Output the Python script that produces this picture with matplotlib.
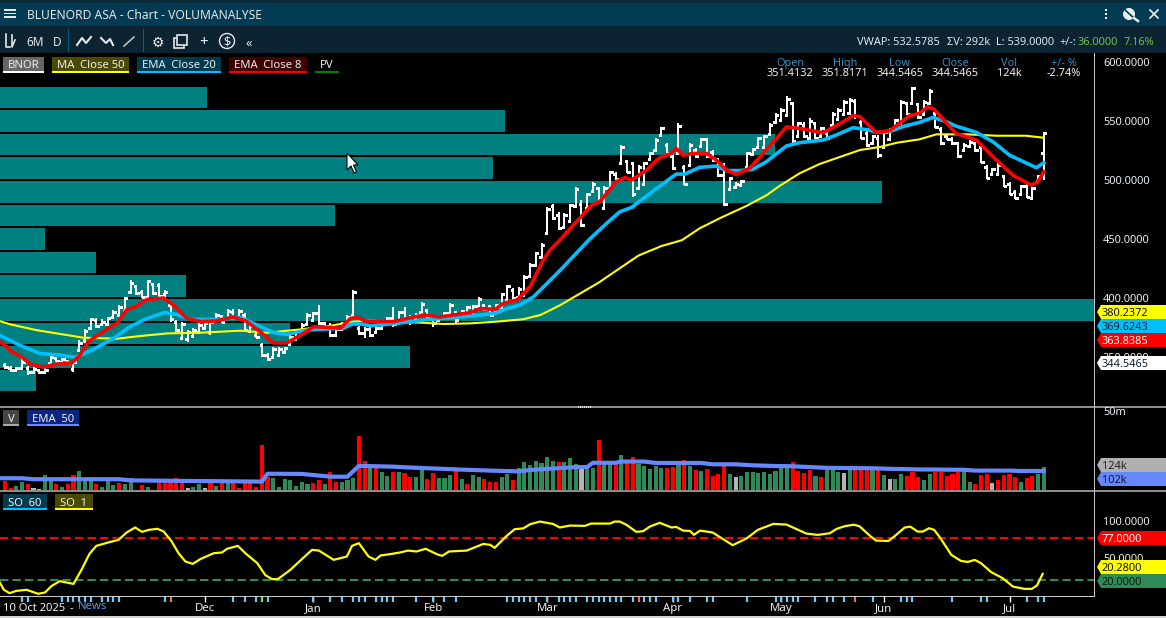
import matplotlib
matplotlib.use("Agg")
import matplotlib.pyplot as plt
from matplotlib.patches import Polygon, Rectangle, Circle

W, H = 1166, 618
plt.rcParams["font.family"] = ["Noto Sans", "DejaVu Sans"]

# price bars, one value per trading day
highs = [344.7, 342.4, 341.8, 348, 342.4, 341.3, 339.6, 340.4, 350.9, 350.3,
         348.9, 347.5, 347.5, 364.4, 374, 383.3, 382.7, 381.9, 384.2, 389.8,
         394, 401.1, 415.2, 411, 406.7, 415.2, 413, 412.4, 406.7, 395.5,
         381.3, 379.9, 372.8, 374.3, 378.5, 379.9, 381.3, 387, 385.6, 390.4,
         390.4, 390.4, 387, 378.5, 370, 361.6, 353, 358.7, 358.2, 358.7,
         368.6, 372.8, 378.5, 387.5, 388.4, 394, 379.9, 378.5, 375.7, 379.9,
         385.6, 407, 376, 375.7, 375.7, 375.7, 380, 384.2, 392.6, 389,
         392.6, 385.6, 387, 396.9, 390.4, 385.6, 385.6, 388.4, 395.5, 388.4,
         389.8, 393.2, 394, 400.6, 395, 394, 395, 404, 411, 408.2,
         409.6, 419.5, 430, 439.3, 446.3, 477.4, 480, 473, 471.7, 480,
         494.3, 483, 489, 498.5, 494.3, 495, 507.9, 507, 529.6, 517,
         515.5, 512.7, 515.5, 524, 535.3, 545.2, 531, 521, 548, 512.7,
         531, 526.8, 536, 536, 525.4, 518.3, 514, 502.8, 498.5, 500,
         524, 526.8, 536.7, 538, 548, 556.4, 560.7, 571, 566.3, 549.4,
         549.4, 552.2, 549.4, 545.2, 541, 557.9, 560.7, 567.7, 569.2, 569,
         550.8, 542.3, 538, 538, 542.3, 543.7, 552, 567.7, 566.3, 579,
         565, 567.7, 576.8, 559, 545, 538, 536.7, 532.4, 531, 533.8,
         532.4, 529.6, 512.7, 510, 514, 504, 498.5, 491.5, 495.7, 496.6,
         494, 504, 541]
lows = [340, 337.6, 337.6, 340.4, 334.8, 336.2, 335.6, 336.2, 344.6, 345.8,
        344.6, 343.2, 337.6, 354.5, 362, 374.3, 374.3, 377.1, 377.1, 382.7,
        385.6, 388.4, 403.9, 402.5, 399.7, 399.7, 402.5, 399.7, 399.7, 379.9,
        371.4, 364.4, 363, 367.2, 370, 374.3, 368.6, 379.9, 378.5, 382.7,
        382.7, 382.7, 371.4, 370, 365.8, 350.3, 346.9, 349.7, 350.8, 353,
        360.1, 364.4, 370, 377.1, 379.9, 377.1, 374.3, 367.2, 367.2, 372.8,
        374.3, 384.2, 368.6, 365.8, 367.2, 370, 374.3, 378.5, 375.7, 378.5,
        380, 377, 381.3, 387, 382.8, 375.1, 380, 381.3, 385.6, 378,
        384.2, 386.4, 387, 392.6, 389.3, 384.7, 387, 391.2, 396.9, 398.3,
        399.7, 401, 418, 426.5, 433.6, 453.4, 466, 457.6, 459, 463.2,
        476, 460, 474.5, 490, 481.6, 474.5, 491.5, 500, 512.7, 505.6,
        485.8, 491.5, 495.7, 517, 524, 536.7, 521, 508.4, 521, 495.7,
        511.3, 518.3, 528.2, 518.3, 515.5, 502.8, 478, 491.5, 493, 495,
        510, 521, 526.8, 526.8, 538, 548, 549.4, 553.6, 531, 535.3,
        535.3, 534.4, 534.4, 535.3, 534.4, 545.2, 550.8, 555, 555, 552,
        534.4, 528.2, 529.6, 519, 526.8, 533.8, 542.3, 546.6, 555, 563.5,
        552, 555, 563.5, 543.7, 529.6, 534, 529.6, 519, 524, 528,
        524, 514, 500.5, 504, 504, 494, 487, 483.6, 487, 484.4,
        483, 498.5, 500]
opens = [343, 341, 339, 341, 341, 337, 339, 337, 345, 349,
         346, 347, 340, 356, 364, 375, 381, 378, 378, 384,
         386, 389, 405, 410, 405, 401, 412, 411, 403, 394,
         380, 366, 365, 368, 371, 375, 371, 381, 385, 383,
         388, 384, 386, 372, 369, 360, 352, 350, 352, 354,
         361, 365, 371, 378, 381, 387, 379, 376, 369, 374,
         376, 386, 375, 370, 374, 371, 375, 379, 383, 379,
         388, 382, 382, 388, 390, 385, 381, 383, 387, 388,
         385, 387, 388, 393, 394, 393, 388, 392, 398, 407,
         401, 403, 419, 428, 435, 455, 478, 470, 460, 465,
         478, 480, 476, 491, 493, 476, 493, 505, 514, 516,
         514, 493, 497, 518, 525, 538, 530, 520, 523, 511,
         513, 525, 529, 535, 524, 517, 504, 492, 494, 496,
         511, 522, 528, 528, 539, 549, 551, 555, 565, 537,
         547, 536, 548, 537, 540, 547, 552, 556, 557, 567,
         549, 540, 531, 536, 528, 535, 543, 548, 565, 565,
         564, 556, 565, 557, 543, 537, 535, 531, 525, 529,
         531, 528, 511, 505, 505, 503, 497, 490, 488, 495,
         485, 499, 523]
closes = [341.5, 339, 340.5, 346, 337, 340, 337, 339, 350, 347,
          348, 345, 346, 362, 372, 382, 376, 380, 383, 388,
          392, 400, 413, 404, 401, 414, 404, 402, 405, 382,
          373, 378, 371, 373, 377, 379, 380, 386, 380, 389,
          384, 389, 373, 376, 367, 352, 348, 357, 357, 358,
          367, 372, 377, 386, 387, 379, 376, 369, 374, 378,
          384, 405, 370, 374, 369, 375, 379, 383, 378, 388,
          382, 384, 386, 395, 385, 379, 384, 387, 394, 381,
          389, 392, 393, 399, 391, 386, 394, 403, 410, 400,
          408, 418, 428, 438, 445, 475, 468, 459, 470, 479,
          492, 462, 488, 497, 483, 493, 507, 501, 528, 507,
          488, 511, 514, 523, 534, 544, 523, 510, 546, 497,
          530, 520, 535, 520, 517, 504, 480, 502, 497, 499,
          523, 526, 536, 537, 547, 555, 559, 569, 533, 548,
          537, 550, 536, 544, 536, 556, 559, 566, 568, 554,
          536, 530, 537, 521, 541, 543, 551, 566, 556, 578,
          553, 566, 575, 545, 531, 535, 531, 520, 530, 532,
          525, 515, 502, 509, 513, 495, 488, 485, 495, 486,
          493, 503, 540]

# moving averages, sampled at the bars where they bend
ema8_idx = [-1, 0, 1, 3, 4.4, 6.7, 9, 11.7, 13, 14.6, 16.7, 19.6, 21.3, 23, 24.9, 27.8, 29.5,
            31.9, 34.2, 37, 40, 42.4, 44.7, 47, 49.4, 51.8, 54.1, 57, 58.8, 60.5, 61.7, 63.4,
            68, 73.3, 76.2, 81.5, 83.2, 85.9, 87.3, 89.7, 92, 94.3, 95.5, 97.2, 99.6, 102.8,
            104.2, 107.1, 108.6, 109.8, 112.4, 114.7, 116.5, 117.6, 118.8, 120.6, 122.9, 124.6,
            126.4, 128.1, 130.5, 132.8, 135.7, 136.9, 139.2, 143.3, 145.9, 148.6, 149.8, 152.6,
            155, 158.5, 160.2, 161.7, 162.8, 166.6, 170.2, 173.7, 176.6, 179.8, 181, 182]
ema8 = [363, 360, 355, 349.7, 344, 341.5, 344, 345, 350.8, 363, 370, 378.5, 390, 393, 398.8, 400, 394,
        382.7, 380, 380.5, 384, 380, 371.4, 362, 362, 368.6, 375.7, 375, 374.3, 382.7, 383.6, 380,
        380, 385.6, 384, 387.6, 391, 390.4, 395.5, 398.3, 409.6, 432, 440.7, 449, 461.8, 478.8,
        481.6, 498.5, 502, 500, 508.4, 519, 522, 526.8, 521, 522.5, 522.5, 517,
        508.4, 504.7, 510, 522.5, 538, 545, 543.7, 540, 546.6, 554.5, 553.6, 540.3,
        541.8, 554.5, 556.5, 562, 559.8, 539.5, 533.8, 517, 504, 495.7, 498.5, 507]
ema20_idx = [-1, 2.6, 6.1, 9.6, 12.3, 15.5, 19, 21.9, 24.9, 28, 30.1, 32.5, 37.7, 41.2, 44.2, 47.1, 49.4,
             52.9, 54.7, 59.3, 60.8, 62.3, 64, 68.6, 73.3, 76.8, 81.5, 85.9, 87.9, 90.2, 92.6, 95.5,
             97.3, 102.4, 105.4, 107.7, 109.8, 113, 115.9, 117.6, 119.1, 121.7, 124.6, 126.4, 128.7,
             131, 133.4, 136.9, 139.2, 143.3, 145.6, 148.6, 151.5, 152.6, 155, 157.3, 160.2, 162.6,
             164.9, 166.6, 170.2, 173.1, 176, 180.7, 182]
ema20 = [368.6, 360, 353, 351.7, 349.7, 356.5, 365.8, 375.7, 382.7, 387.8, 386, 381.9, 381.9, 383.6, 377, 370.6, 369.2,
         372.8, 373.4, 374.3, 378, 378, 376.5, 378.5, 381.3, 382.8, 384.7, 387, 391, 394, 401, 415,
         423.7, 449.7, 463.2, 473, 476.8, 488.6, 499, 505, 505, 510.7, 511.8, 508, 508,
         509, 515.5, 528.8, 531.6, 533.8, 538, 544.3, 542.3, 540.3, 541, 545.2, 548.8, 553,
         549.4, 545.7, 540.3, 532.4, 521, 510.4, 514.6]
ma50_idx = [-1, 1, 5.5, 13.7, 19.6, 23.7, 28.4, 34.2, 41.2, 45.9, 51.8, 57.6, 61.1, 64, 73.3, 76.8, 81.5,
            86.2, 90.8, 93.8, 97.3, 104, 111, 115, 118.6, 121.7, 125.2, 129.9, 133.4, 135.7, 139.2, 142.7,
            149.8, 153.3, 156.3, 160.2, 163.2, 168.4, 173.7, 178.9, 182]
ma50 = [380.5, 377.6, 372.8, 366.4, 365.5, 367.8, 370, 370.6, 372.3, 370.6, 373.4, 377, 380, 380.8, 379, 378, 378.5,
        380, 382, 385.6, 394, 413, 436, 444, 449, 459, 467.5, 478, 487, 494.9, 505.6, 513.5,
        525.4, 528, 531.6, 534.4, 538.7, 538.7, 537.5, 537.5, 535.8]

# horizontal volume-at-price profile, % of the largest bin
pv_price = [570, 550, 530, 510, 490, 470, 450, 430, 410, 390, 370, 350, 330]
pv_width = [18.9, 46.2, 70.8, 45.1, 80.6, 30.6, 4.1, 8.8, 17, 100, 26.5, 37.5, 3.3]

# volume in thousands, r = down day, g = up day, n = unchanged
volumes = [49, 14, 24, 44, 34, 14, 8, 80, 51, 34, 19, 34, 80, 100, 51, 51, 34, 19, 51, 29,
           39, 34, 68, 3, 29, 22, 5, 44, 44, 44, 68, 44, 14, 19, 34, 14, 44, 24, 39, 51,
           39, 14, 39, 39, 19, 233, 73, 65, 19, 60, 54, 24, 44, 34, 39, 54, 34, 95, 44, 44,
           54, 68, 279, 151, 119, 119, 95, 75, 95, 95,
           90, 70, 70, 110, 60, 90, 65, 65, 80, 102, 60, 34, 80, 70, 60, 44, 44, 70, 85, 54,
           116, 146, 131, 151, 141, 172, 151, 146, 146, 167, 136, 110, 116, 116, 258, 136, 136, 136, 182, 151,
           172, 136, 126, 110, 126, 116, 116, 121, 136, 156, 126, 105, 100, 110, 75, 85, 131, 85, 70, 75,
           95, 95, 90, 95, 85, 100, 126, 126, 146, 102,
           92, 107, 77, 71, 107, 107, 97, 92, 107, 107, 107, 107, 107, 107, 82, 61, 61, 87, 77, 97,
           71, 56, 87, 97, 97, 77, 87, 97, 117, 46, 36, 82, 87, 41, 56, 82, 87, 71, 46, 66,
           77, 87, 124]
vol_kind = ("rrggrnnggr" "grrgggrggg" "rggrrgrrrr" "rrnggnrgrg" "rrrrrrrggg"
            "gggg" "rrgrrg" "ggrrgr" "ggrg"
            "rrggrrgggr" "grggrrrggr" "ggggggg" "rgg" "gnggrggrgr"
            "rgggggrrgr" "grgrrrrgng" "ggggggggrr"
            "rrgrgggngr" "rrgrgnggrr" "rggrrrrrgg" "rrrnrrrrgr" "rgg")
vol_ema_idx = [-1, 3, 5, 20, 22, 33, 45, 46, 52, 57, 60, 62, 68, 70, 74, 80, 85, 90, 92, 100, 102, 103, 107,
               108, 112, 114, 122, 124, 128, 131, 134, 138, 141, 144, 152, 155, 160, 168, 170, 176, 178, 182]
vol_ema = [65, 65, 60, 60, 54, 51, 48, 88, 87, 73, 73, 128, 124, 121, 116, 109, 104, 100, 107, 122, 122, 144, 144,
           150, 150, 143, 143, 136, 136, 131, 128, 126, 122, 118, 116, 113, 110, 108, 104, 104, 102, 102]

# stochastic oscillator
so_idx = [-0.9, -0.2, 0.8, 2, 3.8, 5.8, 7, 8.2, 9.6, 12, 13.4, 14.8, 16, 18.1, 19.9, 21.3, 22.8, 24, 25.2, 26.7,
          27.8, 29.2, 30.4, 31.6, 32.9, 34.2, 36.6, 38, 38.9, 40.8, 42.1, 44.2, 45.6, 46.8, 47.8, 50, 52, 53.8,
          55, 57.6, 59.9, 60.8, 62, 63.7, 64.9, 65.8, 67.8, 69.2, 70.6, 72.1, 73.7, 75.7, 76.6, 77.8, 80.9, 83.8,
          85, 85.8, 87.9, 89.3, 90.8, 92, 93.7, 96, 97.2, 99, 101.6, 102.7, 106, 106.8, 107.7, 108.9, 110.6, 111.8,
          113, 114.7, 116.8, 117.6, 118.8, 120, 120.7, 121.8, 124, 125.3, 127.5, 129.9, 131.9, 134.6, 136.9, 138.4,
          140.4, 142.4, 144.5, 145.7, 147.1, 148.7, 149.7, 151.7, 152.6, 154.8, 156.1, 157.6, 158.6, 159.9, 160.8,
          161.9, 162.8, 163.9, 165.8, 167.5, 168.7, 169.9, 171, 172.8, 174.8, 176.6, 178.6, 179.9, 180.8, 181.8]
so_vals = [16.9, 7, 2.5, 5.6, 7, 1.6, 3.4, 12.4, 18.7, 15, 34, 55.6, 66.4, 71, 74.5, 84.4, 91.2, 85.3, 88, 89.4,
           85.8, 72.3, 56.5, 45.3, 42, 48.4, 56.5, 57.4, 62.4, 66.4, 56.5, 43, 27, 21.4, 21.4, 34, 48.4, 61,
           60, 47.5, 52, 66.4, 70, 52, 47.5, 53.4, 55.6, 57.4, 60, 58.8, 62.4, 55, 52.9, 58.8, 60, 69,
           67.8, 63.7, 79.9, 88.9, 90, 95.6, 99.2, 96, 91.2, 93.8, 93.4, 96.5, 96.5, 99.2, 99.2, 94.8, 85.3, 86.2,
           92.5, 97.5, 91.2, 92, 87, 86.6, 81.3, 87, 84.4, 78, 67.3, 76.3, 88, 96, 95.2, 90,
           83, 81.2, 83.4, 89.3, 92.9, 95, 92.9, 79, 73.5, 73, 81, 91, 92.4, 85.7, 85.7,
           90.2, 88, 76.7, 54.2, 46, 44.7, 47.4, 43, 30.8, 22.7, 11.4, 8.3, 8.3, 12.8, 28.5]

news_blue = [3, 4, 10, 11, 12, 13, 14, 15, 17, 18, 19, 20, 28, 40, 42, 44, 46, 54, 57, 59, 61, 62, 63, 65, 66, 67, 68,
             72, 75, 77, 79, 88, 89, 90, 91, 92, 93, 95, 97, 98, 99, 100, 102, 103, 104, 105, 106, 107, 108, 110,
             112, 113, 114, 117, 118, 120, 123, 124, 130, 135, 136, 137, 138, 139, 142, 144, 145, 147, 152, 157, 158,
             159, 166, 171, 172, 179, 181, 182]
news_red = [29, 111, 149]
news_green = [45]

month_pos = [35, 54, 75, 95, 117, 136, 154, 176]
month_names = ["Dec", "Jan", "Feb", "Mar", "Apr", "May", "Jun", "Jul"]
price_ticks = [350, 400, 450, 500, 550, 600]
so_ticks = [50, 100]


def panel(left, top, right, bottom, z=1):
    ax = fig.add_axes([left / W, 1 - bottom / H, (right - left) / W, (bottom - top) / H], zorder=z)
    ax.set_facecolor("none")
    for s in ax.spines.values():
        s.set_visible(False)
    ax.set_xlim(-0.876, 190.8)
    ax.set_xticks([])
    ax.yaxis.tick_right()
    ax.tick_params(axis="y", length=0, pad=6.5, labelsize=7.9, labelcolor="#e8eef2")
    return ax


fig = plt.figure(figsize=(W / 100, H / 100), dpi=100, facecolor="black")

# volume profile sits under the price bars
ax_pv = panel(0, 53, 1094, 406, z=1)
ax_pv.set_xlim(0, 100)
ax_pv.set_ylim(308.5, 607.6)
ax_pv.set_yticks([])
ax_pv.barh(pv_price, pv_width, height=18.4, color="#008080")

ax = panel(0, 53, 1094, 406, z=2)
ax.set_ylim(308.5, 607.6)
ax.set_yticks(price_ticks, [f"{p:.4f}" for p in price_ticks])
days = list(range(len(highs)))
ax.vlines(days, lows, highs, color="white", lw=1.3, antialiased=False, zorder=2)
ax.hlines(opens, [d - 0.4 for d in days], days, color="white", lw=1.0, antialiased=False, zorder=2)
ax.hlines(closes, days, [d + 0.45 for d in days], color="white", lw=1.0, antialiased=False, zorder=2)
ax.plot(ma50_idx, ma50, color="#ffff00", lw=1.5, zorder=3)
ax.plot(ema20_idx, ema20, color="#00bfff", lw=2.6, zorder=4)
ax.plot(ema8_idx, ema8, color="#ff0000", lw=2.6, zorder=5)

ax_v = panel(0, 407, 1094, 491, z=2)
ax_v.set_ylim(0, 428)
ax_v.set_yticks([])
kind_color = {"r": "#ff0000", "g": "#2e8b57", "n": "#b4b4b4"}
ax_v.bar(days, volumes, width=0.72, color=[kind_color[k] for k in vol_kind])
ax_v.plot(vol_ema_idx, vol_ema, color="#6688ff", lw=3.0, zorder=3)

ax_so = panel(0, 491, 1094, 596, z=2)
ax_so.set_ylim(-1.35, 140.5)
ax_so.set_yticks(so_ticks, [f"{s:.4f}" for s in so_ticks])
ax_so.axhline(77, color="#ff0000", lw=1.5, ls=(0, (4, 2)))
ax_so.axhline(20, color="#2e8b57", lw=1.5, ls=(0, (4, 2)))
ax_so.plot(so_idx, so_vals, color="#ffff00", lw=1.6, zorder=3)
ax_so.set_xticks(month_pos, month_names)
ax_so.tick_params(axis="x", length=4, width=1, color="white", pad=1, labelsize=8.2, labelcolor="#f0f0f0")
trans = ax_so.get_xaxis_transform()
ax_so.vlines(news_blue, -0.057, -0.005, color="#66ccff", lw=1.6, transform=trans, clip_on=False)
ax_so.vlines(news_red, -0.057, -0.005, color="#ff6650", lw=1.6, transform=trans, clip_on=False)
ax_so.vlines(news_green, -0.057, -0.005, color="#66ee55", lw=1.6, transform=trans, clip_on=False)

# window chrome, drawn in screen pixels
ui = fig.add_axes([0, 0, 1, 1], zorder=10)
ui.set_xlim(0, W)
ui.set_ylim(H, 0)
ui.axis("off")
ui.patch.set_alpha(0)


def box(x0, y0, x1, y1, color):
    ui.add_patch(Rectangle((x0, y0), x1 - x0, y1 - y0, color=color, lw=0))


def label(x, y, s, color="#e6e6e6", size=8.3, ha="left", **kw):
    ui.text(x, y, s, color=color, fontsize=size, ha=ha, va="center_baseline", **kw)


def tag(y, s, bg, fg):
    ui.add_patch(Polygon([(1097, y), (1101, y - 7), (1166, y - 7), (1166, y + 7), (1101, y + 7)], color=bg, lw=0))
    label(1102, y, s, color=fg, size=7.9)


def legend(x0, x1, y0, s, bg, under):
    box(x0, y0, x1, y0 + 14, bg)
    box(x0, y0 + 14, x1, y0 + 16, under)
    label((x0 + x1) / 2, y0 + 7.5, s, color="#eeeeee", size=8.1, ha="center")


box(0, 0, W, 3, "#0b2a3a")
box(0, 3, W, 26, "#033a54")
box(0, 26, W, 53, "#0c2432")
box(0, 616, W, 618, "#d4d4d4")

# hamburger, title, window buttons
for yy in (10, 13.5, 17):
    box(4, yy - 0.8, 16, yy + 0.8, "#e6e6e6")
label(27, 14, "BLUENORD ASA - Chart - VOLUMANALYSE", size=8.7, fontweight="bold", color="#e4e4e4")
for yy in (10, 14, 18):
    box(1105, yy - 1, 1107, yy + 1, "#f0f0f0")
ui.add_patch(Circle((1129, 14), 6, color="#f0f0f0", lw=0))
ui.plot([1123, 1136], [8, 20], color="#033a54", lw=1.2)
ui.plot([1134, 1138], [18, 21], color="#f0f0f0", lw=1.8)
ui.plot([1150, 1158], [10, 18], color="#f0f0f0", lw=1.2)
ui.plot([1158, 1150], [10, 18], color="#f0f0f0", lw=1.2)

# toolbar
label(26, 41, "6M", size=8.5)
label(53, 41, "D", size=8.5)
box(68, 29, 69, 52, "#0b5a80")
box(143, 29, 144, 52, "#0b5a80")
ui.plot([6, 6, 10], [34, 47, 47], color="#e6e6e6", lw=1.2)
ui.plot([12, 12, 15], [35, 47, 40], color="#e6e6e6", lw=1.2)
ui.plot([77, 82, 86, 91], [45, 38, 43, 37], color="#e6e6e6", lw=1.5)
ui.plot([101, 106, 110, 113], [38, 43, 39, 45], color="#e6e6e6", lw=1.5)
ui.plot([124, 134], [46, 37], color="#c8c8c8", lw=1.1)
label(158, 41, "⚙", size=10, ha="center", color="#f0f0f0")
ui.add_patch(Rectangle((174, 38), 10, 10, fill=False, ec="#e6e6e6", lw=1.2))
ui.add_patch(Rectangle((177, 35), 10, 10, facecolor="#0c2432", ec="#e6e6e6", lw=1.2))
label(204, 41, "+", size=11, ha="center", fontweight="bold", color="#f0f0f0")
label(227, 41, "$", size=9, ha="center", fontweight="bold", color="#f0f0f0")
ui.add_patch(Circle((227, 41), 7.5, fill=False, ec="#e6e6e6", lw=1.0))
label(249, 42, "«", size=9, ha="center")

label(857, 41, "VWAP: 532.5785", size=7.9, color="#dde6ec")
label(947, 41, "ΣV: 292k", size=7.9, color="#dde6ec")
label(996, 41, "L: 539.0000", size=7.9, color="#dde6ec")
label(1059, 41, "+/-:", size=7.9, color="#dde6ec")
label(1078, 41, "36.0000", size=7.9, color="#6cc24a")
label(1123, 41, "7.16%", size=7.9, color="#6cc24a")

# OHLC readout
for x, head, val in [(790, "Open", "351.4132"), (845, "High", "351.8171"), (900, "Low", "344.5465"),
                     (955, "Close", "344.5465"), (1009, "Vol", "124k"), (1064, "+/- %", "-2.74%")]:
    label(x, 62, head, color="#2a8fc4", size=7.9, ha="center")
    label(x, 72, val, color="#f0f0f0", size=7.9, ha="center")

legend(3, 44, 57, "BNOR", "#666666", "#ffffff")
legend(52, 129, 57, "MA  Close 50", "#4a4a00", "#ffff00")
legend(137, 221, 57, "EMA  Close 20", "#003a4f", "#00bfff")
legend(229, 307, 57, "EMA  Close 8", "#400000", "#ff0000")
legend(315, 339, 57, "PV", "#000000", "#008000")
legend(3, 19, 410, "V", "#444444", "#aaaaaa")
legend(27, 79, 410, "EMA  50", "#0b2580", "#6688ff")
legend(3, 47, 494, "SO  60", "#053a4f", "#00bfff")
legend(55, 93, 494, "SO  1", "#4a4a00", "#ffff00")

# panel borders
box(0, 406, W, 408, "#8c8c8c")
box(0, 490, W, 492, "#8c8c8c")
box(1094, 53, 1095, 596, "#c4c4c4")
box(0, 595.5, 1095, 596.7, "#c8c8c8")
for dot in range(578, 592, 2):
    box(dot, 406, dot + 1, 407.5, "#e0e0e0")

tag(312, "380.2372", "#ffff00", "#111111")
tag(326, "369.6243", "#00bfff", "#06222e")
tag(340, "363.8385", "#ff0000", "#ffffff")
tag(363, "344.5465", "#ffffff", "#12222e")
tag(465, "124k", "#b0b0b0", "#222222")
tag(479, "102k", "#6688ff", "#101830")
tag(538, "77.0000", "#ff0000", "#ffffff")
tag(567, "20.2800", "#ffff00", "#111111")
tag(581, "20.0000", "#2e8b57", "#0a1a10")
label(1103, 411, "50m", color="#e8eef2", size=7.9)

label(3, 607, "10 Oct 2025", size=8.1, color="#f0f0f0")
label(70, 607, "-", size=8.1, color="#f0f0f0")
label(78, 605, "News", size=8.1, color="#4a9fe0")

# mouse pointer
ui.add_patch(Polygon([(347, 153), (347, 170), (351, 166), (354, 173), (356.5, 172), (353.5, 165), (358, 165)],
                     facecolor="white", edgecolor="black", lw=0.8))

fig.savefig("out.png", dpi=100, facecolor="black")
